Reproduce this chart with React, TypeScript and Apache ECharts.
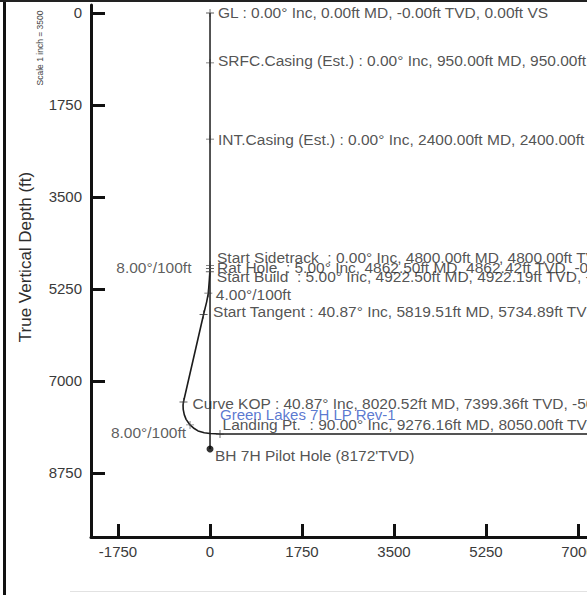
import React, { useEffect, useRef } from "react";
import * as echarts from "echarts";

// ---- data ----
const xTicks = [-1750, 0, 1750, 3500, 5250, 7000];
const yTicks = [0, 1750, 3500, 5250, 7000, 8750];

// original vertical / pilot hole (VS ft, TVD ft)
const pilotVS = [0, 0];
const pilotTVD = [0, 8295];

// sidetrack + lateral (VS ft, TVD ft)
const sidetrackVS = [0, -1, -3, -13, -32, -65, -123, -505, -513, -510, -490, -455, -380, -300, -228, -110, 0, 190, 9000];
const sidetrackTVD = [4800, 4862, 4922, 5080, 5330, 5500, 5735, 7399, 7460, 7540, 7640, 7730, 7836, 7905, 7950, 7985, 7998, 8010, 8010];

// stations labelled to the right
const stationNames = [
  "GL : 0.00° Inc, 0.00ft MD, -0.00ft TVD, 0.00ft VS",
  "SRFC.Casing (Est.) : 0.00° Inc, 950.00ft MD, 950.00ft TVD, 0.00ft VS",
  "INT.Casing (Est.) : 0.00° Inc, 2400.00ft MD, 2400.00ft TVD, 0.00ft VS",
  "Start Sidetrack  : 0.00° Inc, 4800.00ft MD, 4800.00ft TVD, 0.00ft VS",
  "Rat Hole  : 5.00° Inc, 4862.50ft MD, 4862.42ft TVD, -0.91ft VS",
  "Start Build  : 5.00° Inc, 4922.50ft MD, 4922.19ft TVD, -3.12ft VS",
  "4.00°/100ft",
  "Start Tangent : 40.87° Inc, 5819.51ft MD, 5734.89ft TVD, -123.40ft VS",
  "Curve KOP : 40.87° Inc, 8020.52ft MD, 7399.36ft TVD, -505.10ft VS",
  "Landing Pt.  : 90.00° Inc, 9276.16ft MD, 8050.00ft TVD, 190.00ft VS",
];
const stationVS = [0, 0, 0, 0, -1, -3, -32, -123, -505, 190];
const stationTVD = [0, 950, 2400, 4800, 4862, 4922, 5330, 5735, 7399, 8010];

// dog-leg annotations labelled to the left
const doglegNames = ["8.00°/100ft", "8.00°/100ft"];
const doglegVS = [-1, -380];
const doglegTVD = [4862, 7836];

// target and bottom hole
const targetName = "Green Lakes 7H LP Rev-1";
const targetVS = 190;
const targetTVD = 8010;
const bhName = "BH 7H Pilot Hole (8172'TVD)";
const bhVS = 0;
const bhTVD = 8295;

// ---- layout / style (not data) ----
const FONT = "Liberation Sans";
const INK = "#1c1c1c";
const LABEL_SIZE = 15.5;
const stationOffsets = [
  [4, 0], [4, -2], [4, 0], [3, -8], [3, -1.5], [3, 5], [3.5, 1], [5.5, -2.5], [5, 1.5], [-1.5, -10],
];
const doglegOffsets = [[-14.5, -1.5], [0, 8]];
const CROSS = "path://M0,4.45H10V5.55H0Z M4.45,0H5.55V10H4.45Z";

export default function App() {
  const ref = useRef<HTMLDivElement>(null);

  useEffect(() => {
    if (!ref.current) return;
    const chart = echarts.init(ref.current, undefined, { renderer: "svg" });

    const pair = (xs: number[], ys: number[]) => xs.map((x, i) => [x, ys[i]]);
    const plain = (v: number) => String(v);

    const option: any = {
      animation: false,
      backgroundColor: "#ffffff",
      grid: { left: 91, top: 5, width: 496, height: 532, containLabel: false, outerBoundsMode: "none" },
      xAxis: {
        type: "value",
        min: -2264,
        max: 7171,
        axisLine: { show: true, onZero: false, lineStyle: { color: "#111", width: 3 } },
        axisTick: {
          show: true,
          inside: true,
          length: 13,
          customValues: xTicks,
          lineStyle: { color: "#111", width: 3 },
        },
        axisLabel: {
          customValues: xTicks,
          formatter: plain,
          margin: 7,
          fontSize: 15,
          color: "#3a3a3a",
          fontFamily: FONT,
          hideOverlap: false,
        },
        splitLine: { show: false },
      },
      yAxis: {
        type: "value",
        inverse: true,
        min: -152,
        max: 9968,
        axisLine: { show: true, onZero: false, lineStyle: { color: "#111", width: 3 } },
        axisTick: {
          show: true,
          inside: true,
          length: 14,
          customValues: yTicks,
          lineStyle: { color: "#111", width: 3 },
        },
        axisLabel: {
          customValues: yTicks,
          formatter: plain,
          margin: 9,
          fontSize: 15,
          color: "#3a3a3a",
          fontFamily: FONT,
        },
        splitLine: { show: false },
      },
      graphic: [
        { type: "rect", left: 3, top: 0, shape: { width: 3, height: 595 }, style: { fill: "#111" }, z: 10 },
        { type: "rect", left: 0, top: 0, shape: { width: 587, height: 2 }, style: { fill: "#222" }, z: 10 },
        { type: "rect", left: 70, top: 591, shape: { width: 517, height: 1 }, style: { fill: "#e2e2e2" }, z: 10 },
        {
          type: "text",
          x: 25,
          y: 257,
          rotation: Math.PI / 2,
          style: {
            text: "True Vertical Depth (ft)",
            fontSize: 17,
            fontFamily: FONT,
            fill: "#2e2e2e",
            align: "center",
            verticalAlign: "middle",
          },
          z: 10,
        },
        {
          type: "text",
          x: 40,
          y: 48,
          rotation: Math.PI / 2,
          style: {
            text: "Scale 1 inch = 3500",
            fontSize: 8.5,
            fontFamily: FONT,
            fill: "#444",
            align: "center",
            verticalAlign: "middle",
          },
          z: 10,
        },
      ],
      series: [
        {
          type: "line",
          data: pair(pilotVS, pilotTVD),
          showSymbol: false,
          lineStyle: { color: INK, width: 1.5 },
          z: 2,
        },
        {
          type: "line",
          data: pair(sidetrackVS, sidetrackTVD),
          showSymbol: false,
          smooth: false,
          lineStyle: { color: INK, width: 1.6 },
          z: 2,
        },
        {
          type: "scatter",
          symbol: CROSS,
          symbolSize: 8,
          itemStyle: { color: "#333" },
          data: stationVS.map((v, i) => ({
            value: [v, stationTVD[i]],
            name: stationNames[i],
            label: { offset: stationOffsets[i] },
          })),
          label: {
            show: true,
            position: "right",
            distance: 0,
            formatter: (p: any) => p.name,
            fontSize: LABEL_SIZE,
            fontFamily: FONT,
            color: "#262626",
          },
          z: 3,
        },
        {
          type: "scatter",
          symbol: CROSS,
          symbolSize: 8,
          itemStyle: { color: "#555" },
          data: doglegVS.map((v, i) => ({
            value: [v, doglegTVD[i]],
            name: doglegNames[i],
            label: { offset: doglegOffsets[i] },
          })),
          label: {
            show: true,
            position: "left",
            distance: 0,
            formatter: (p: any) => p.name,
            fontSize: LABEL_SIZE,
            fontFamily: FONT,
            color: "#333",
          },
          z: 3,
        },
        {
          type: "scatter",
          symbol: "circle",
          symbolSize: 1,
          itemStyle: { color: "rgba(0,0,0,0)" },
          data: [{ value: [targetVS, targetTVD], name: targetName }],
          label: {
            show: true,
            position: "right",
            distance: 0,
            offset: [-0.5, -20],
            formatter: (p: any) => p.name,
            fontSize: 15,
            fontFamily: FONT,
            color: "#2f55c4",
          },
          z: 4,
        },
        {
          type: "scatter",
          symbol: "circle",
          symbolSize: 7,
          itemStyle: { color: "#000" },
          data: [{ value: [bhVS, bhTVD], name: bhName }],
          label: {
            show: true,
            position: "right",
            distance: 0,
            offset: [1.5, 6],
            formatter: (p: any) => p.name,
            fontSize: LABEL_SIZE,
            fontFamily: FONT,
            color: "#262626",
          },
          z: 4,
        },
      ],
    };

    chart.setOption(option);
    return () => chart.dispose();
  }, []);

  return (
    <div
      ref={ref}
      style={{ position: "fixed", left: 0, top: 0, width: 587, height: 595, background: "#fff" }}
    />
  );
}
